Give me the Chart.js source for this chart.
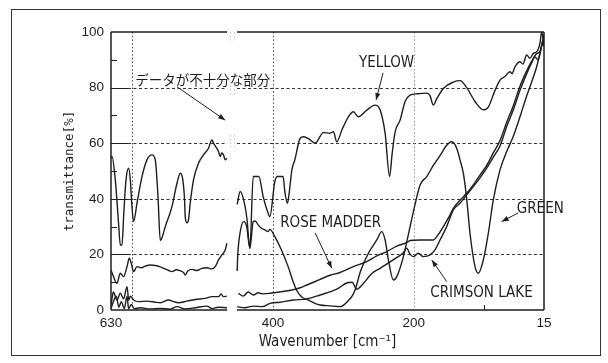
<!DOCTYPE html>
<html>
<head>
<meta charset="utf-8">
<script src="https://cdn.jsdelivr.net/npm/chart.js@4.4.1/dist/chart.umd.min.js"></script>
<style>
  html, body { margin: 0; padding: 0; background: #fff; }
  canvas { display: block; }
</style>
</head>
<body>
<canvas id="c" width="608" height="363"></canvas>
<script>
// Axis ticks
const xTickLabels = [630, 400, 200, 15];
const xGridValues = [600, 400, 200];
const xMinorTicks = [100];
const yTicks = [0, 20, 40, 60, 80, 100];
const yGridValues = [20, 40, 60, 80];
const yMinorTicks = [10, 30, 50, 70, 90];
// wavenumber range with no measured data (axis is broken there)
const dataBreak = [465, 451];

// [wavenumber cm^-1, transmittance %]; null marks the break
const yellow = [
  [630,54.6],[628.6,55.2],[623.9,46.8],[619.2,31],[616.8,23.4],[614.4,23.4],[611.8,35],[608.7,46.8],[605,51],[602.6,47],
  [600.2,37],[597.9,31.8],[593.1,38.4],[586,48],[578.9,54],[571.8,55.8],[567.1,54],[563.3,41],[560,25],[557.6,26],
  [552.9,30],[543.4,37.2],[536.3,45.6],[531.6,49.2],[528.4,47.4],[525.5,39.6],[524.6,33.6],[522.1,31.4],[519.9,32.4],[517.5,38.4],
  [512.8,46.8],[505.7,52.8],[498.6,55.8],[491.5,58.2],[486.7,61.2],[484.4,60],[477.3,57],[474.9,55.2],[472.8,56.5],[470.2,55.8],
  [467.8,54],[465.4,54.6],
  [458,null],
  [450.8,38],[446.5,42.6],[441,39],[437,33],[432.7,22.2],[428,48],[420,48],[413.9,40.8],[406.8,34.8],[404.4,33.6],
  [397.3,46.2],[393.6,48],[385.5,48],[383.1,42.6],[379.4,38.4],[377,42],[373.1,50.4],[368.9,54],[361.3,61.8],[356.7,62.3],
  [348.6,61.5],[340.1,60],[328.3,63.8],[318.8,63.6],[314.1,64.1],[309.3,60.5],[301.7,65],[292.8,69.5],[285.7,71.3],[278.6,69.5],
  [266.7,71.9],[254.9,73.7],[247.8,72],[240.7,63.6],[234.3,48],[230.8,56],[226.5,64],[219.4,68.3],[212.3,75],[205.3,77.3],
  [195,77.8],[181.5,78],[176.8,77],[172.2,73.7],[167.3,76],[158,79.7],[143.8,82],[134.3,82.5],[124.8,80],[113,75],
  [101.2,72],[94.1,73],[84.6,79],[77.5,82.7],[70.4,84],[63.3,85.7],[60.5,85],[56.2,87.5],[49.1,89.3],[44.9,88.5],
  [39.6,91.7],[35,90.5],[30.2,92.3],[25,93],[20.7,96],[18.3,100],[16.5,98],[15,97]
];

const green = [
  [630,14.4],[626.4,12],[621.5,9.6],[616.8,13.2],[612.1,12],[607.3,15.6],[604,18.6],[601.2,16.8],[597.9,13.8],[593.1,15.6],
  [587,15.2],[581.3,15.8],[574,16.2],[567.1,16],[560,15.5],[555.3,15],[548,14.2],[543.4,13.8],[537,14.5],[531.6,14.1],
  [527,13.5],[524.6,12.6],[521,14],[515,14.6],[508,14.2],[500.9,15],[493.8,15.2],[487,14.8],[482,15.6],[477.3,18],
  [472.5,19.8],[467.8,21.6],[465.4,24],
  [458,null],
  [450.8,14],[449.9,20],[446.5,28],[441.6,31.8],[437.3,30],[432.7,22.2],[428,31.8],[425.2,32],[420.9,30.6],[416.3,29.4],
  [411.4,28.8],[406.8,28.2],[404.4,29],[397.3,26.4],[387.9,21.6],[378.4,15.6],[371.3,10.2],[366.6,7.2],[359.5,4.8],[350,3.6],
  [340.5,2.4],[333,1.8],[318.8,1.5],[304.6,1.2],[292.1,3.6],[287.6,5],[283.3,7.2],[275.5,14],[264.4,20.4],[252.5,25.2],
  [245.4,28.2],[240.7,25.2],[236,18],[228.9,10.8],[224.1,12],[214.7,19.2],[205.2,30],[198.1,38],[191,45],[181.5,48],
  [172.2,52],[162.7,55.5],[154.1,59],[146.1,60.5],[141.4,59.5],[136.7,56.4],[134.3,54],[129.6,49.2],[124.8,40],[120.1,27.6],
  [113,15.6],[108.3,13.2],[101.2,18],[94.1,27.6],[87,39.6],[77.5,50.4],[68,57],[58.6,62.5],[49.1,69.5],[39.6,77],
  [32.5,82],[25.4,87.5],[18.3,95],[16.1,98],[15,99]
];

const roseMadder = [
  [630,2],[628.6,4],[626.7,6.5],[621.5,3.6],[616.8,6],[612.1,4],[607.3,8.4],[604.7,3.5],[602.6,5],[597.9,3.6],
  [590.8,3],[578.9,3.2],[567.1,2.8],[560,2.6],[548.3,3.6],[541,3],[534.1,2.6],[522.1,3.2],[510.4,3.8],[496.2,4.2],
  [486.7,4.8],[477.3,4.8],[473.5,5.8],[470.6,4.8],[465.4,5],
  [458,null],
  [448.9,6],[442.2,5],[435.1,6.5],[427.6,5.4],[420.9,6.2],[413.9,5.8],[403.9,6],[389.7,6.5],[373.1,7.2],[361.4,8],
  [351.8,9],[333,11],[318.8,12.5],[304.6,13.5],[285.7,15.6],[266.7,17.4],[252.5,19.5],[238.3,21],[224.1,23],[210,24.2],
  [205.2,25],[191,25.2],[172.2,25.2],[165.5,27],[158,30],[150,33.5],[143.8,36.6],[134.3,39.5],[124.8,42],[115.4,45],
  [105.9,48.5],[96.4,52],[87,56.5],[77.5,61],[68,67.5],[58.6,73.5],[49.1,80.5],[39.6,86],[32.5,89.5],[26.4,92],
  [20.7,93],[16.5,96],[15,95]
];

const crimsonLake = [
  [630,0.5],[626.7,3],[622.5,5],[618.9,1],[615.4,3],[611.1,0.5],[607.3,5],[605,0.5],[601.2,2],[597,0.5],
  [588.4,0.8],[574.2,0.4],[560,0.6],[545.8,0.3],[536.3,1.2],[524.6,0.4],[510.4,0.8],[493.8,1.4],[486.2,0.5],[477.7,1],
  [465.4,0.8],
  [458,null],
  [450.8,1.2],[440,0.8],[427.6,1.4],[415,1.2],[403.9,2.4],[390,2.8],[370.9,3.6],[351.8,4],[333,5.4],[309.3,7.5],
  [294.6,9.8],[287.6,10],[281,7.5],[273.4,9],[259.2,13.2],[247.8,15],[237,16.8],[226.5,18.5],[215.2,20.5],[210,22.2],
  [205.2,20],[200.5,19.2],[193.5,20.4],[186.4,19.2],[176.8,19.8],[169.8,21.6],[162.7,25.2],[153.2,30],[143.8,36],[134.3,38.4],
  [124.8,41.4],[115.4,44.4],[105.9,47.5],[96.4,51],[87,55],[77.5,59],[68,66],[58.6,72],[49.1,79],[39.6,85],
  [32.5,89],[27.8,91],[23.6,90],[19.3,94],[16.5,97],[15,96]
];

// Curve names written on the plot, with leader arrows (data coordinates)
const curveLabels = [
  { text: 'YELLOW',       at: [238.6, 88.8], align: 'center', from: [243.6, 85.3], to: [253.5, 75.5] },
  { text: 'データが不十分な部分', at: [595.5, 82.7], align: 'left', cjk: true, from: [536.3, 80.3], to: [467.8, 68.3] },
  { text: 'ROSE MADDER',  at: [318.1, 31.4], align: 'center', from: [340, 27.7],   to: [316.4, 15] },
  { text: 'GREEN',        at: [20.3, 36.2],  align: 'center', from: [51.9, 34.9],  to: [75.1, 31.8] },
  { text: 'CRIMSON LAKE', at: [103.8, 6],    align: 'center', from: [153.1, 10.2], to: [174.4, 18] }
];

const INK = '#1e1e1e';
const NARROW = '"Liberation Sans Narrow", "DejaVu Sans Condensed", "Arial Narrow", "Liberation Sans", sans-serif';

function series(label, pts) {
  return {
    label,
    data: pts.map(([x, y]) => ({ x, y })),
    borderColor: INK,
    borderWidth: 1.4,
    pointRadius: 0,
    fill: false,
    spanGaps: false,
    cubicInterpolationMode: 'monotone'
  };
}

function arrow(ctx, x1, y1, x2, y2) {
  ctx.beginPath();
  ctx.moveTo(x1, y1);
  ctx.lineTo(x2, y2);
  ctx.stroke();
  const a = Math.atan2(y2 - y1, x2 - x1), L = 7, W = 2.6;
  ctx.beginPath();
  ctx.moveTo(x2, y2);
  ctx.lineTo(x2 - L * Math.cos(a) + W * Math.sin(a), y2 - L * Math.sin(a) - W * Math.cos(a));
  ctx.lineTo(x2 - L * Math.cos(a) - W * Math.sin(a), y2 - L * Math.sin(a) + W * Math.cos(a));
  ctx.closePath();
  ctx.fill();
}

const brokenFrame = {
  id: 'brokenFrame',
  beforeDatasetsDraw(chart) {
    const { ctx, chartArea: a, scales: { x, y } } = chart;
    const bL = x.getPixelForValue(dataBreak[0]);
    const bR = x.getPixelForValue(dataBreak[1]);
    ctx.save();
    // outer frame
    ctx.strokeStyle = '#333';
    ctx.lineWidth = 1;
    ctx.strokeRect(11.5, 9.5, 589, 346);

    // horizontal dashed grid, interrupted by the break
    ctx.strokeStyle = '#333';
    ctx.lineWidth = 1;
    ctx.setLineDash([3, 2.5]);
    yGridValues.forEach(v => {
      const py = Math.round(y.getPixelForValue(v)) + 0.5;
      ctx.beginPath();
      ctx.moveTo(a.left + 17, py); ctx.lineTo(bL, py);
      ctx.moveTo(bR, py); ctx.lineTo(a.right, py);
      ctx.stroke();
    });
    // vertical dotted grid
    ctx.setLineDash([1.5, 2.2]);
    xGridValues.forEach(v => {
      const px = Math.round(x.getPixelForValue(v)) + 0.5;
      ctx.strokeStyle = v === 200 ? '#999' : '#444';
      ctx.beginPath();
      ctx.moveTo(px, a.top); ctx.lineTo(px, a.bottom);
      ctx.stroke();
    });
    // faint marks inside the break
    ctx.strokeStyle = '#c4c4c4';
    [[100, 97], [82, 77], [63, 58]].forEach(([t0, t1]) => {
      [bL + 3, bR - 3].forEach(px => {
        ctx.beginPath();
        ctx.moveTo(Math.round(px) + 0.5, y.getPixelForValue(t0));
        ctx.lineTo(Math.round(px) + 0.5, y.getPixelForValue(t1));
        ctx.stroke();
      });
    });
    ctx.restore();
  },
  afterDatasetsDraw(chart) {
    const { ctx, chartArea: a, scales: { x, y } } = chart;
    const bL = x.getPixelForValue(dataBreak[0]);
    const bR = x.getPixelForValue(dataBreak[1]);
    ctx.save();
    ctx.strokeStyle = INK;
    ctx.lineWidth = 1.5;
    ctx.setLineDash([]);
    ctx.beginPath();
    // left and right axis lines
    ctx.moveTo(a.left, a.top); ctx.lineTo(a.left, a.bottom);
    ctx.moveTo(a.right, a.top); ctx.lineTo(a.right, a.bottom);
    // top and bottom lines, broken where data is missing
    [a.top, a.bottom].forEach(py => {
      ctx.moveTo(a.left, py); ctx.lineTo(bL, py);
      ctx.moveTo(bR, py); ctx.lineTo(a.right, py);
    });
    ctx.stroke();
    // inward ticks
    ctx.lineWidth = 1;
    ctx.beginPath();
    yGridValues.forEach(v => {
      const py = Math.round(y.getPixelForValue(v)) + 0.5;
      ctx.moveTo(a.left, py); ctx.lineTo(a.left + 17, py);
    });
    yMinorTicks.forEach(v => {
      const py = Math.round(y.getPixelForValue(v)) + 0.5;
      ctx.moveTo(a.left, py); ctx.lineTo(a.left + 6, py);
    });
    xMinorTicks.forEach(v => {
      const px = Math.round(x.getPixelForValue(v)) + 0.5;
      ctx.moveTo(px, a.bottom); ctx.lineTo(px, a.bottom - 5);
    });
    ctx.stroke();

    // curve names and leader arrows
    ctx.fillStyle = INK;
    ctx.strokeStyle = INK;
    ctx.lineWidth = 1;
    ctx.textBaseline = 'middle';
    curveLabels.forEach(l => {
      ctx.font = l.cjk ? '13.5px "Noto Sans CJK JP", sans-serif' : '15px ' + NARROW;
      ctx.textAlign = l.align;
      ctx.fillText(l.text, x.getPixelForValue(l.at[0]), y.getPixelForValue(l.at[1]));
      arrow(ctx,
        x.getPixelForValue(l.from[0]), y.getPixelForValue(l.from[1]),
        x.getPixelForValue(l.to[0]), y.getPixelForValue(l.to[1]));
    });
    ctx.restore();
  }
};

new Chart(document.getElementById('c'), {
  type: 'line',
  data: {
    datasets: [
      series('YELLOW', yellow),
      series('GREEN', green),
      series('ROSE MADDER', roseMadder),
      series('CRIMSON LAKE', crimsonLake)
    ]
  },
  options: {
    responsive: false,
    animation: false,
    devicePixelRatio: 1,
    layout: { padding: { top: 32, right: 64, bottom: 0, left: 0 } },
    plugins: { legend: { display: false }, tooltip: { enabled: false } },
    scales: {
      x: {
        type: 'linear',
        reverse: true,
        min: 15,
        max: 630,
        afterBuildTicks: s => { s.ticks = xTickLabels.map(v => ({ value: v })); },
        afterFit: s => { s.height = 53; },
        grid: { display: false, drawTicks: false },
        border: { display: false },
        ticks: { autoSkip: false, maxRotation: 0, padding: 5, color: INK,
                 font: { family: '"Liberation Sans", sans-serif', size: 13.5 } },
        title: { display: true, text: 'Wavenumber [cm⁻¹]', color: INK,
                 font: { family: NARROW, size: 15 }, padding: { top: 0, bottom: 12 } }
      },
      y: {
        min: 0,
        max: 100,
        afterBuildTicks: s => { s.ticks = yTicks.map(v => ({ value: v })); },
        afterFit: s => { s.width = 111; },
        grid: { display: false, drawTicks: false },
        border: { display: false },
        ticks: { padding: 7, color: INK,
                 font: { family: '"Liberation Sans", sans-serif', size: 13.5 } },
        title: { display: true, text: 'transmittance[%]', color: INK,
                 font: { family: '"DejaVu Sans Mono", monospace', size: 12.5 }, padding: { top: 62, bottom: 0 } }
      }
    }
  },
  plugins: [brokenFrame]
});
</script>
</body>
</html>
